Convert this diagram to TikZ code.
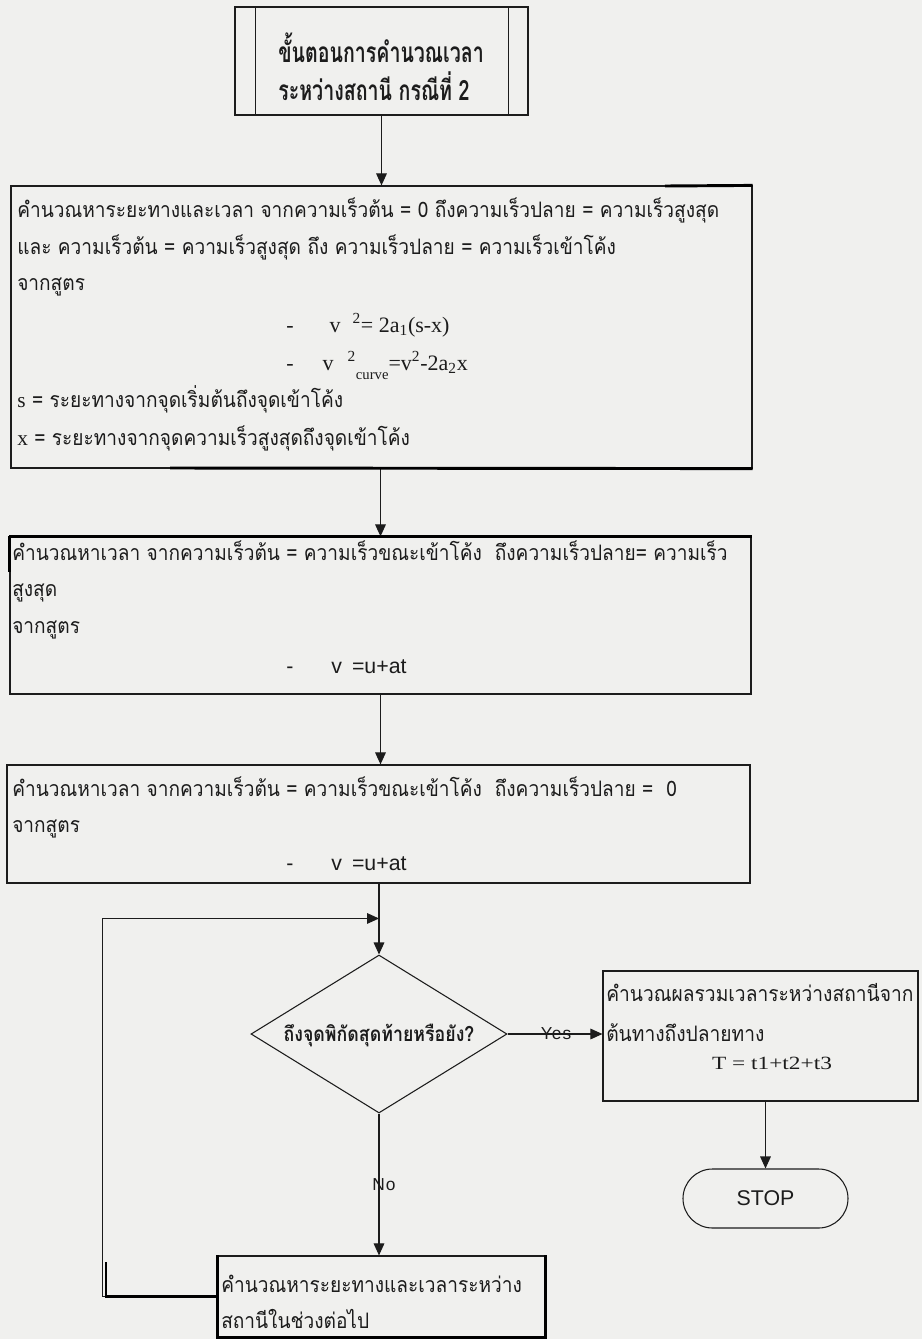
\documentclass[tikz,border=0pt]{standalone}
\usepackage{fontspec}
\usetikzlibrary{arrows.meta,shapes.geometric,shapes.misc}

% Thai faces (Loma, condensed to the narrow look of the chart)
\newfontfamily\thaibody[Script=Thai,FakeStretch=0.895]{Loma}
\newfontfamily\thaiwide[Script=Thai,FakeStretch=0.90]{Loma}
\newfontfamily\thaititle[Script=Thai,FakeStretch=0.70]{Loma}
\newfontfamily\thaidiam[Script=Thai,FakeStretch=0.86]{Loma}
% Latin faces for formulas and labels
\newfontfamily\eqserif{Liberation Serif}
\newfontfamily\eqsans{Liberation Sans}
\newfontfamily\totserif[FakeStretch=1.25]{Liberation Serif}
\newfontfamily\lblsans[LetterSpace=6]{Liberation Sans}
\newfontfamily\stopsans{Liberation Sans}

\newdimen\px \px=0.75pt
\definecolor{paper}{RGB}{240,240,238}
\definecolor{ink}{RGB}{28,28,28}

\begin{document}
\begin{tikzpicture}[x=0.75pt,y=-0.75pt,
  box/.style={draw=ink,line width=0.9pt,rectangle,inner sep=0pt},
  flow/.style={draw=ink,line width=0.8pt,-{Triangle[length=9pt,width=8pt]}},
  edge/.style={draw=ink,line width=0.8pt},
  heavy/.style={draw=black,line width=2.2pt},
  txt/.style={anchor=base west,inner sep=0pt,text=ink},
  body/.style={txt,font=\thaibody\fontsize{16pt}{18pt}\selectfont},
  eq/.style={txt,font=\eqserif\fontsize{16.5pt}{18pt}\selectfont},
  eqs/.style={txt,font=\eqsans\fontsize{16pt}{18pt}\selectfont},
  lbl/.style={inner sep=0pt,text=ink,font=\lblsans\fontsize{13pt}{15pt}\selectfont},
]
\fill[paper] (0,0) rectangle (922,1339);
\useasboundingbox (0,0) rectangle (922,1339);

% ---------- start: predefined-process box ----------
\node[box,minimum width={293*0.75pt},minimum height={108*0.75pt}] (b1) at (381.5,61) {};
\draw[edge] ([xshift={21*0.75pt}]b1.north west) -- ([xshift={21*0.75pt}]b1.south west);
\draw[edge] ([xshift={-20*0.75pt}]b1.north east) -- ([xshift={-20*0.75pt}]b1.south east);
\node[txt,font=\thaititle\bfseries\fontsize{21pt}{23pt}\selectfont] (b1a) at (278,62) {ขั้นตอนการคำนวณเวลา};
\node[txt,font=\thaititle\bfseries\fontsize{21pt}{23pt}\selectfont] (b1b) at (278,100) {ระหว่างสถานี กรณีที่ 2};

% ---------- box 2 ----------
\node[box,minimum width={741*0.75pt},minimum height={282*0.75pt}] (b2) at (381.5,327) {};
\node[body] (b2a) at (17,217) {คำนวณหาระยะทางและเวลา จากความเร็วต้น = 0 ถึงความเร็วปลาย = ความเร็วสูงสุด};
\node[body] (b2b) at (17,254) {และ ความเร็วต้น = ความเร็วสูงสุด ถึง ความเร็วปลาย = ความเร็วเข้าโค้ง};
\node[body] (b2c) at (17,290) {จากสูตร};
\node[eq] (b2f1) at (286,332) {-\hspace{36\px}v\hspace{12\px}\textsuperscript{2}= 2a\textsubscript{1}(s-x)};
\node[eq] (b2f2) at (286,370) {-\hspace{29\px}v\hspace{14\px}\textsuperscript{2}\raisebox{-9\px}{\fontsize{11pt}{13pt}\selectfont curve}=v\textsuperscript{2}-2a\textsubscript{2}x};
\node[body] (b2s) at (17,407) {{\eqserif s} = ระยะทางจากจุดเริ่มต้นถึงจุดเข้าโค้ง};
\node[body] (b2x) at (17,445) {{\eqserif x} = ระยะทางจากจุดความเร็วสูงสุดถึงจุดเข้าโค้ง};

% ---------- box 3 ----------
\node[box,minimum width={741*0.75pt},minimum height={157*0.75pt}] (b3) at (380.5,615.5) {};
\node[body] (b3a) at (12,560) {คำนวณหาเวลา จากความเร็วต้น = ความเร็วขณะเข้าโค้ง\ \ ถึงความเร็วปลาย= ความเร็ว};
\node[body] (b3b) at (12,596) {สูงสุด};
\node[body] (b3c) at (12,633) {จากสูตร};
\node[eqs] (b3f) at (286,673) {-\hspace{38\px}v\hspace{10\px}=u+at};

% ---------- box 4 ----------
\node[box,minimum width={743*0.75pt},minimum height={118*0.75pt}] (b4) at (378.5,824) {};
\node[body] (b4a) at (12,796) {คำนวณหาเวลา จากความเร็วต้น = ความเร็วขณะเข้าโค้ง\ \ ถึงความเร็วปลาย =\ \ 0};
\node[body] (b4b) at (12,832) {จากสูตร};
\node[eqs] (b4f) at (286,870) {-\hspace{38\px}v\hspace{10\px}=u+at};

% ---------- decision ----------
\node[diamond,draw=ink,line width=0.8pt,inner sep=0pt,
      minimum width={256*0.75pt},minimum height={158*0.75pt}] (dia) at (379,1034) {};
\node[anchor=base,inner sep=0pt,text=ink,font=\thaidiam\bfseries\fontsize{15.5pt}{17pt}\selectfont] (diat) at (379,1041) {ถึงจุดพิกัดสุดท้ายหรือยัง?};

% ---------- box 5 ----------
\node[box,minimum width={315*0.75pt},minimum height={130*0.75pt}] (b5) at (760.5,1036) {};
\node[txt,font=\thaiwide\fontsize{16pt}{18pt}\selectfont] (b5a) at (606,1001) {คำนวณผลรวมเวลาระหว่างสถานีจาก};
\node[txt,font=\thaiwide\fontsize{16pt}{18pt}\selectfont] (b5b) at (606,1041) {ต้นทางถึงปลายทาง};
\node[anchor=base,inner sep=0pt,text=ink,font=\totserif\fontsize{14pt}{16pt}\selectfont] (b5c) at (772,1069) {T = t1+t2+t3};

% ---------- terminator ----------
\node[rounded rectangle,draw=ink,line width=0.8pt,inner sep=0pt,
      minimum width={165*0.75pt},minimum height={59*0.75pt},
      text=ink,font=\stopsans\fontsize{16pt}{18pt}\selectfont] (stop) at (765.5,1198.5) {STOP};

% ---------- box 6 ----------
\node[box,minimum width={327*0.75pt},minimum height={81*0.75pt}] (b6) at (381.5,1296.5) {};
\node[txt,font=\thaibody\fontsize{16pt}{18pt}\selectfont] (b6a) at (221,1292) {คำนวณหาระยะทางและเวลาระหว่าง};
\node[txt,font=\thaibody\fontsize{16pt}{18pt}\selectfont] (b6b) at (221,1328) {สถานีในช่วงต่อไป};

% ---------- connectors ----------
\draw[flow] (b1.south) -- (b1.south |- b2.north);
\draw[flow] (b3.north |- b2.south) -- (b3.north);
\draw[flow] (b3.south) -- (b3.south |- b4.north);
\draw[flow] (dia.north |- b4.south) -- (dia.north);
\path (dia.north) ++(0,-36) coordinate (join);
\draw[flow] (b6.west) -- ++(-115,0) |- (join);
\draw[flow] (dia.east) -- (dia.east -| b5.west);
\node[lbl] (yes) at (556,1034) {Yes};
\draw[flow] (stop.north |- b5.south) -- (stop.north);
\draw[flow] (dia.south) -- (dia.south |- b6.north);
\node[lbl] (no) at (384,1185) {No};

% ---------- heavy rule strokes on some frames ----------
\draw[heavy] (665,186) -- (b2.north east);
\draw[heavy] (170,468) -- (b2.south east);
\draw[heavy] (b3.north west) -- (b3.north east);
\draw[heavy] (b3.north west) -- ++(0,36);
\draw[heavy] (b6.north west) -- (b6.south west) -- (b6.south east) -- (b6.north east);
\draw[heavy] (106,1262) -- (106,1296.5) -- (b6.west);
\end{tikzpicture}
\end{document}
